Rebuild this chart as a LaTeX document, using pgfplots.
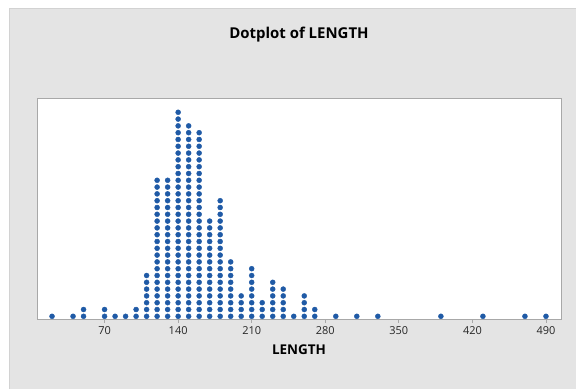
\documentclass[border=0pt]{standalone}
\usepackage{fontspec}
\setmainfont{Open Sans}
\usepackage{pgfplots}
\pgfplotsset{compat=1.18}

\definecolor{panel}{HTML}{E4E4E4}
\definecolor{panelline}{HTML}{D2D2D2}
\definecolor{frame}{HTML}{A8A8A8}
\definecolor{dotblue}{HTML}{1F5AA6}

\begin{document}
\begin{tikzpicture}
\useasboundingbox (0,0) rectangle (576bp,389bp);
\fill[white] (0,0) rectangle (576bp,389bp);
\fill[panel] (9bp,0) rectangle (576bp,381bp);
\draw[panelline, line width=0.8bp] (9bp,0) -- (9bp,381bp) -- (576bp,381bp);
\begin{axis}[
    at={(37bp,69.7bp)},
    anchor=south west,
    scale only axis,
    width=524bp,
    height=221.3bp,
    xmin=5.7, xmax=504.3,
    ymin=0.56, ymax=33.1,
    clip=false,
    axis background/.style={fill=white},
    axis line style={frame, line width=0.8bp},
    xtick={70,140,210,280,350,420,490},
    ytick=\empty,
    xtick pos=bottom,
    xtick align=outside,
    major tick length=3.5bp,
    every tick/.style={frame, line width=0.8bp},
    /pgf/number format/assume math mode=true,
    xticklabel style={font=\fontsize{11}{13}\selectfont, text=black!85},
    title={Dotplot of LENGTH},
    title style={font=\fontsize{15}{18}\selectfont\bfseries, at={(axis description cs:0.5,1)}, anchor=center, yshift=57bp},
    xlabel={LENGTH},
    xlabel style={font=\fontsize{13.5}{16}\selectfont\bfseries, at={(axis description cs:0.5,0)}, anchor=center, yshift=-30bp},
]
\addplot[only marks, mark=*, mark size=2.5bp, mark options={draw=dotblue, fill=dotblue}] coordinates {
    (20,1)
    (40,1)
    (50,1) (50,2)
    (70,1) (70,2)
    (80,1)
    (90,1)
    (100,1) (100,2)
    (110,1) (110,2) (110,3) (110,4) (110,5) (110,6) (110,7)
    (120,1) (120,2) (120,3) (120,4) (120,5) (120,6) (120,7) (120,8) (120,9) (120,10)
    (120,11) (120,12) (120,13) (120,14) (120,15) (120,16) (120,17) (120,18) (120,19) (120,20) (120,21)
    (130,1) (130,2) (130,3) (130,4) (130,5) (130,6) (130,7) (130,8) (130,9) (130,10)
    (130,11) (130,12) (130,13) (130,14) (130,15) (130,16) (130,17) (130,18) (130,19) (130,20) (130,21)
    (140,1) (140,2) (140,3) (140,4) (140,5) (140,6) (140,7) (140,8) (140,9) (140,10)
    (140,11) (140,12) (140,13) (140,14) (140,15) (140,16) (140,17) (140,18) (140,19) (140,20)
    (140,21) (140,22) (140,23) (140,24) (140,25) (140,26) (140,27) (140,28) (140,29) (140,30) (140,31)
    (150,1) (150,2) (150,3) (150,4) (150,5) (150,6) (150,7) (150,8) (150,9) (150,10)
    (150,11) (150,12) (150,13) (150,14) (150,15) (150,16) (150,17) (150,18) (150,19) (150,20)
    (150,21) (150,22) (150,23) (150,24) (150,25) (150,26) (150,27) (150,28) (150,29)
    (160,1) (160,2) (160,3) (160,4) (160,5) (160,6) (160,7) (160,8) (160,9) (160,10)
    (160,11) (160,12) (160,13) (160,14) (160,15) (160,16) (160,17) (160,18) (160,19) (160,20)
    (160,21) (160,22) (160,23) (160,24) (160,25) (160,26) (160,27) (160,28)
    (170,1) (170,2) (170,3) (170,4) (170,5) (170,6) (170,7) (170,8) (170,9) (170,10)
    (170,11) (170,12) (170,13) (170,14) (170,15)
    (180,1) (180,2) (180,3) (180,4) (180,5) (180,6) (180,7) (180,8) (180,9) (180,10)
    (180,11) (180,12) (180,13) (180,14) (180,15) (180,16) (180,17) (180,18)
    (190,1) (190,2) (190,3) (190,4) (190,5) (190,6) (190,7) (190,8) (190,9)
    (200,1) (200,2) (200,3) (200,4)
    (210,1) (210,2) (210,3) (210,4) (210,5) (210,6) (210,7) (210,8)
    (220,1) (220,2) (220,3)
    (230,1) (230,2) (230,3) (230,4) (230,5) (230,6)
    (240,1) (240,2) (240,3) (240,4) (240,5)
    (250,1)
    (260,1) (260,2) (260,3) (260,4)
    (270,1) (270,2)
    (290,1)
    (310,1)
    (330,1)
    (390,1)
    (430,1)
    (470,1)
    (490,1)
};
\end{axis}
\end{tikzpicture}
\end{document}
